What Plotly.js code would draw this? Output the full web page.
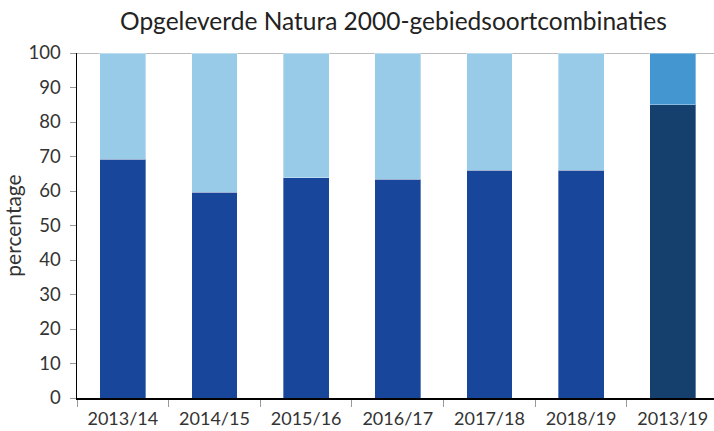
<!DOCTYPE html>
<html><head><meta charset="utf-8">
<script src="https://cdn.plot.ly/plotly-3.0.1.min.js"></script>
<style>html,body{margin:0;padding:0;background:#fff}#chart{width:714px;height:431px}</style>
</head><body><div id="chart"></div>
<script>
const categories = ["2013/14","2014/15","2015/16","2016/17","2017/18","2018/19","2013/19"];
const delivered = [69.2, 59.6, 63.8, 63.4, 66.0, 66.0, 85.0];
const remaining = delivered.map(v => 100 - v);
const darkColors = ["#18469b","#18469b","#18469b","#18469b","#18469b","#18469b","#15406e"];
const lightColors = ["#97cbe7","#97cbe7","#97cbe7","#97cbe7","#97cbe7","#97cbe7","#4496d1"];

const font = "Lato, 'Open Sans', sans-serif";
const data = [
  {type:"bar", x:categories, y:delivered, width:0.5,
   marker:{color:darkColors, line:{color:"rgba(255,255,255,0.35)", width:1}}, hoverinfo:"skip"},
  {type:"bar", x:categories, y:remaining, width:0.5,
   marker:{color:lightColors, line:{color:"rgba(255,255,255,0.35)", width:1}}, hoverinfo:"skip"}
];
const layout = {
  width:714, height:431, barmode:"stack", showlegend:false,
  paper_bgcolor:"#fff", plot_bgcolor:"#fff",
  margin:{l:77, r:0, t:53, b:33},
  font:{family:font, color:"#333", size:18},
  title:{text:"Opgeleverde Natura 2000-gebiedsoortcombinaties", x:0.551, xanchor:"center", y:0.951, yanchor:"middle",
         font:{family:font, size:24.5, color:"#222"}},
  xaxis:{type:"category", range:[-0.5, 6.45], showline:true, linecolor:"#000", linewidth:1.5,
         ticks:"outside", ticklen:7, tickcolor:"#999", tickson:"boundaries", showgrid:false,
         ticklabelstandoff:4, automargin:false,
         tickfont:{size:18, color:"#333"}, fixedrange:true},
  yaxis:{range:[0,100], dtick:10, showline:true, linecolor:"#000", linewidth:1.5,
         ticks:"outside", ticklen:6, tickcolor:"#999", showgrid:false, zeroline:false,
         ticklabelstandoff:5, automargin:false,
         tickfont:{size:18.5, color:"#333"},
         title:{text:"percentage", font:{size:21, color:"#333"}, standoff:8}},
  shapes:[{type:"line", xref:"paper", yref:"y", x0:0, x1:1, y0:100, y1:100,
           line:{color:"#bbb", width:2}, layer:"below"}]
};
Plotly.newPlot("chart", data, layout, {staticPlot:true, displayModeBar:false});
</script></body></html>
